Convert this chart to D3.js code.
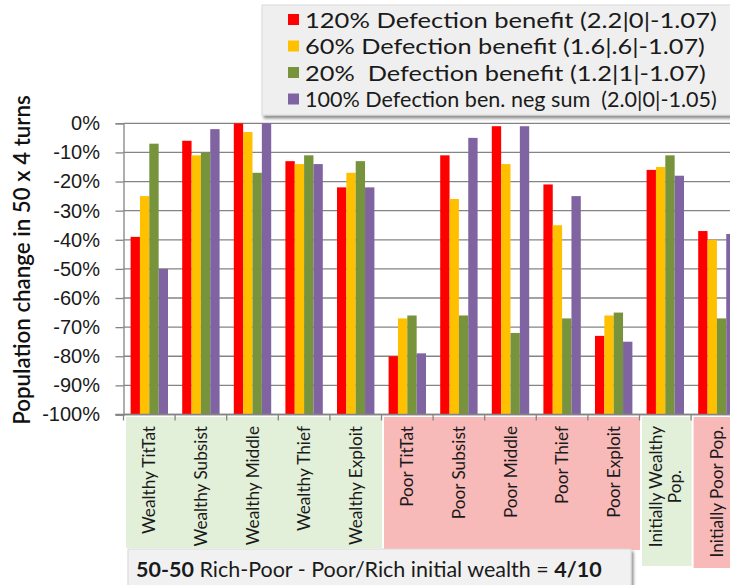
<!DOCTYPE html>
<html><head><meta charset="utf-8">
<script src="https://cdn.jsdelivr.net/npm/d3@7/dist/d3.min.js"></script>
<style>
body{margin:0;background:#fff;}
svg{display:block;font-family:Lato,"Open Sans",sans-serif;}
</style></head>
<body>
<svg id="chart" width="730" height="585"></svg>
<script>
const categories = ["Wealthy TitTat","Wealthy Subsist","Wealthy Middle","Wealthy Thief","Wealthy Exploit",
  "Poor TitTat","Poor Subsist","Poor Middle","Poor Thief","Poor Exploit","Initially Wealthy Pop.","Initially Poor Pop."];
const seriesNames = ["120% Defection benefit (2.2|0|-1.07)","60% Defection benefit (1.6|.6|-1.07)",
  "20%  Defection benefit (1.2|1|-1.07)","100% Defection ben. neg sum  (2.0|0|-1.05)"];
const s120 = [-39,-6,0,-13,-22,-80,-11,-1,-21,-73,-16,-37];
const s60  = [-25,-11,-3,-14,-17,-67,-26,-14,-35,-66,-15,-40];
const s20  = [-7,-10,-17,-11,-13,-66,-66,-72,-67,-65,-11,-67];
const sNeg = [-50,-2,0,-14,-22,-79,-5,-1,-25,-75,-18,-38];
const yTicks = [0,-10,-20,-30,-40,-50,-60,-70,-80,-90,-100];
const groups = ["Wealthy","Wealthy","Wealthy","Wealthy","Wealthy","Poor","Poor","Poor","Poor","Poor","Wealthy","Poor"];
const colors = ["#ff0000","#ffc000","#77933c","#8064a2"];
const allSeries = [s120,s60,s20,sNeg];
const legendWidths = [412, 400, 401, 412]; // rendered text widths in the reference (layout)

const svg = d3.select("#chart");
const pLeft = 123.5, pTop = 123.3, pBottom = 414.5, step = 51.6;
const x0 = d3.scaleBand().domain(categories).range([pLeft, pLeft + step*categories.length]).padding(0);
const x1 = d3.scaleBand().domain(d3.range(4)).range([0, x0.bandwidth()]).paddingInner(0).paddingOuter(0.76);
const y = d3.scaleLinear().domain([-100,0]).range([pBottom, pTop]);
const gridCol = "#848484";

// category label backgrounds
const bgColor = {Wealthy:"#e2efd9", Poor:"#f8b9b9"};
const bgSpans = [
  {g:"Wealthy", from:0, to:4, h:548},
  {g:"Poor", from:5, to:9, h:550},
  {g:"Wealthy", from:10, to:10, h:566},
  {g:"Poor", from:11, to:11, h:568}
];
svg.selectAll("rect.bg").data(bgSpans).join("rect")
  .attr("x", d => x0(categories[d.from]) + 2.5)
  .attr("width", d => x0(categories[d.to]) + step - x0(categories[d.from]) - 2)
  .attr("y", 417).attr("height", d => d.h - 417)
  .attr("fill", d => bgColor[d.g]);

// gridlines
svg.append("g").selectAll("line").data(yTicks).join("line")
  .attr("x1", pLeft).attr("x2", 730).attr("y1", d => y(d)).attr("y2", d => y(d))
  .attr("stroke", gridCol).attr("stroke-width", 1.3);

// bars
const barData = [];
categories.forEach((c,i) => allSeries.forEach((s,j) => barData.push({c, j, v:s[i]})));
svg.append("g").selectAll("rect").data(barData).join("rect")
  .attr("x", d => x0(d.c) + x1(d.j))
  .attr("width", x1.bandwidth())
  .attr("y", d => y(d.v))
  .attr("height", d => y(-100) - y(d.v))
  .attr("fill", d => colors[d.j]);

// y axis
const yAxis = d3.axisLeft(y).tickValues(yTicks).tickSize(8).tickPadding(0).tickFormat(d => d + "%");
const yg = svg.append("g").attr("transform", `translate(${pLeft},0)`).call(yAxis);
yg.select(".domain").attr("stroke", gridCol).attr("stroke-width", 1.3);
yg.selectAll(".tick line").attr("stroke", gridCol).attr("stroke-width", 1.3);
yg.selectAll(".tick text").attr("font-size", 20).attr("fill", "#1a1a1a")
  .attr("x", 0).attr("transform", "translate(-23.5,0)");

// x axis
const xAxis = d3.axisBottom(x0).tickSize(0).tickFormat("");
const xg = svg.append("g").attr("transform", `translate(0,${pBottom})`).call(xAxis);
xg.select(".domain").attr("stroke", gridCol).attr("stroke-width", 1.3).attr("d", `M${pLeft-8},0H730`);
xg.selectAll(".tick").remove();
xg.selectAll("line.bt").data(categories).join("line").attr("class","bt")
  .attr("x1", d => x0(d)).attr("x2", d => x0(d)).attr("y1", 0).attr("y2", 6)
  .attr("stroke", gridCol).attr("stroke-width", 1.3);

// category labels
const lab = svg.append("g").selectAll("text").data(categories).join("text")
  .attr("transform", d => `translate(${x0(d) + step/2},426) rotate(-90)`)
  .attr("text-anchor", "end").attr("font-size", 17.2).attr("fill", "#1a1a1a");
lab.each(function(d){
  const t = d3.select(this);
  if (d === "Initially Wealthy Pop.") {
    const a = t.append("tspan").attr("x", 0).attr("dy", "-0.22em").text("Initially Wealthy");
    const len = a.node().getComputedTextLength();
    t.append("tspan").attr("x", -len/2).attr("dy", "1.15em").attr("text-anchor","middle").text("Pop.");
  } else {
    t.append("tspan").attr("x", 0).attr("dy", "0.35em").text(d);
  }
});

// y axis title
svg.append("text").attr("transform", "translate(30,260) rotate(-90)")
  .attr("text-anchor", "middle").attr("font-size", 22.3).attr("font-weight", 600).attr("fill", "#111")
  .text("Population change in 50 x 4 turns");

// legend
const lgX = 262, lgY = 5;
const defs = svg.append("defs");
const f = defs.append("filter").attr("id","sh").attr("x","-5%").attr("y","-5%").attr("width","115%").attr("height","120%");
f.append("feDropShadow").attr("dx",2).attr("dy",3).attr("stdDeviation",1.5).attr("flood-color","#000").attr("flood-opacity",0.45);
svg.append("rect").attr("x", lgX).attr("y", lgY).attr("width", 480).attr("height", 110)
  .attr("fill", "#efefef").attr("stroke", "#d9d9d9").attr("filter","url(#sh)");
const lg = svg.append("g").selectAll("g").data(seriesNames).join("g")
  .attr("transform", (d,i) => `translate(288,${14 + i*26.5})`);
lg.append("rect").attr("width", 11).attr("height", 11).attr("fill", (d,i) => colors[i]);
lg.append("text").attr("dy", "0.36em")
  .attr("font-size", 21).attr("fill", "#1a1a1a")
  .attr("xml:space","preserve").style("white-space","pre").text(d => d)
  .each(function(d,i){
    const w = this.getComputedTextLength();
    const sx = legendWidths[i] / w;
    d3.select(this).attr("transform", `translate(17,6) scale(${sx},1)`);
  });

// bottom title box
svg.append("rect").attr("x", 128).attr("y", 549).attr("width", 503).attr("height", 40)
  .attr("fill", "#f1f1f1").attr("stroke", "#d9d9d9").attr("filter","url(#sh)");
const tt = svg.append("text").attr("x", 136).attr("y", 577).attr("font-size", 21.5).attr("fill", "#1a1a1a");
tt.append("tspan").attr("font-weight", 700).text("50-50");
tt.append("tspan").text(" Rich-Poor - Poor/Rich initial wealth = ");
tt.append("tspan").attr("font-weight", 700).text("4/10");
</script>
</body></html>
